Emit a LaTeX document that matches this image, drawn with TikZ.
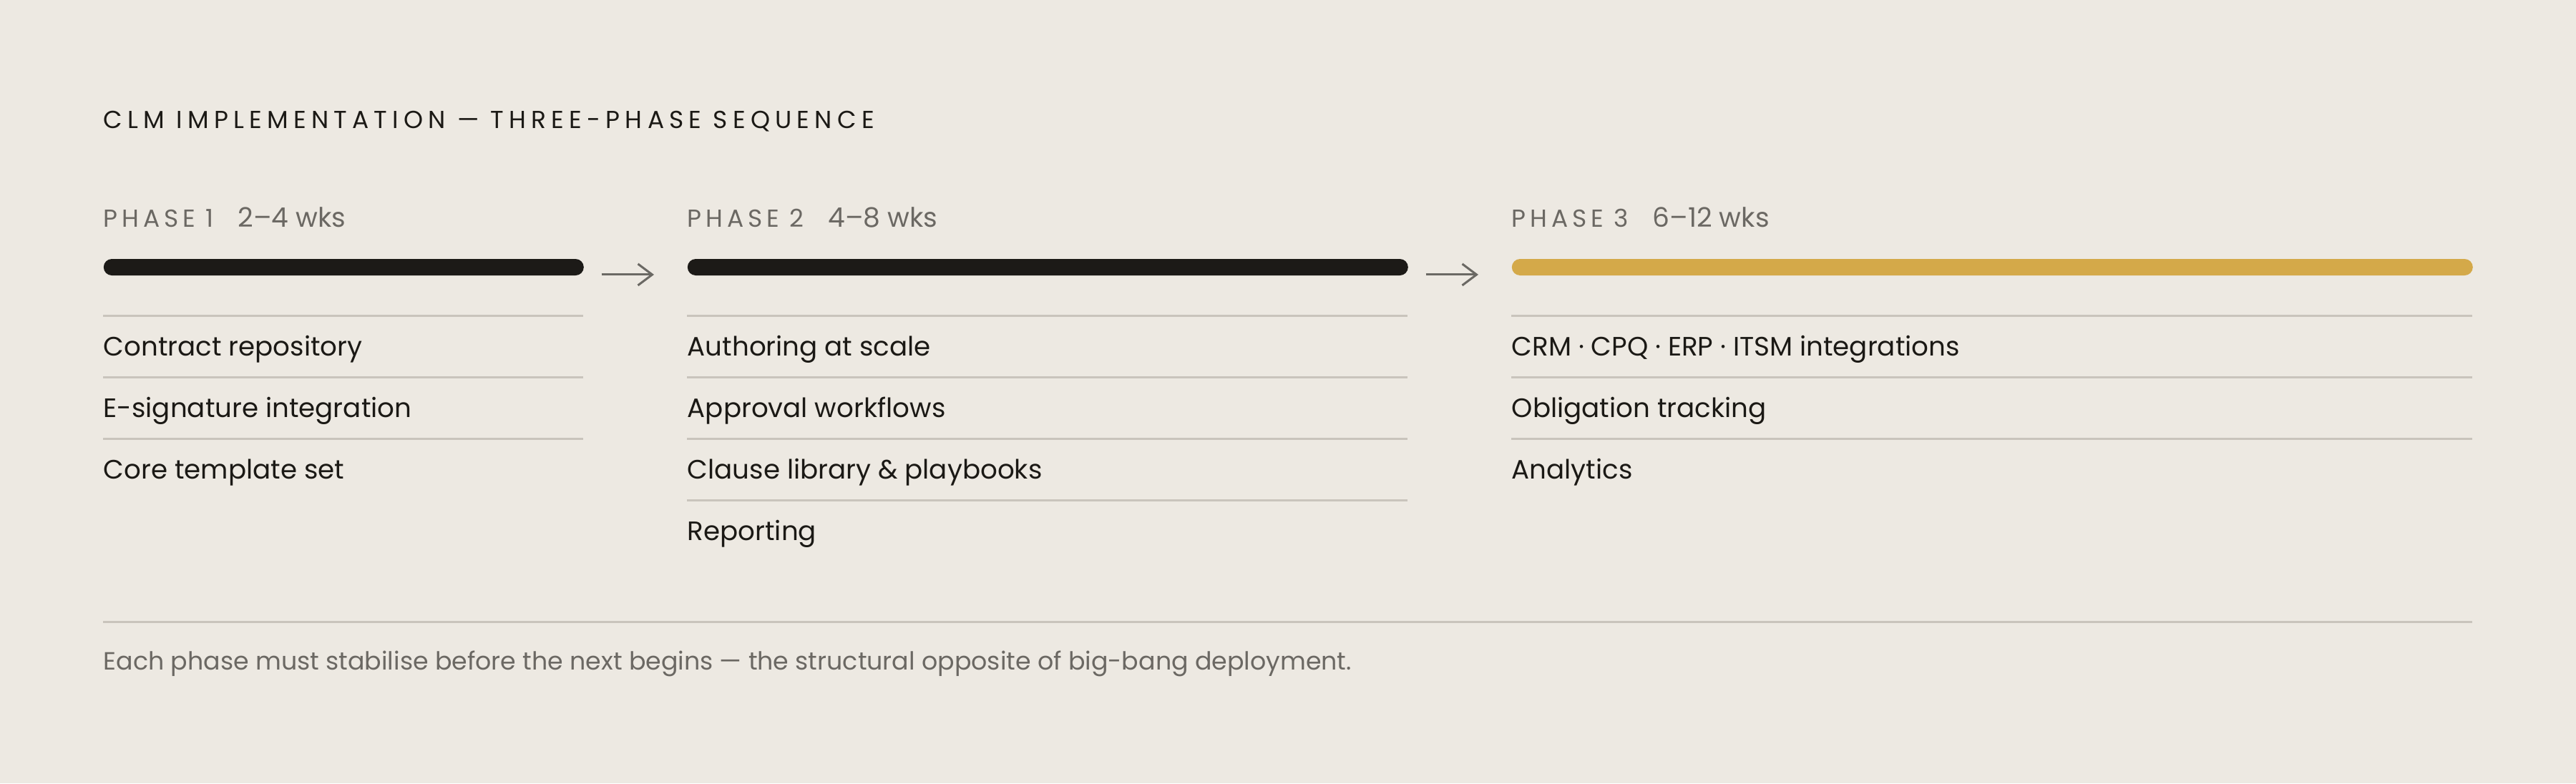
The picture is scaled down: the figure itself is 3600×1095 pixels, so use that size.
\documentclass[tikz,border=0pt]{standalone}
\usepackage{fontspec}
\setmainfont{Poppins}
\newfontfamily\trackfont[LetterSpace=21]{Poppins}
\newfontfamily\phasefont[LetterSpace=17]{Poppins}
\usetikzlibrary{positioning,arrows.meta}
\definecolor{paper}{HTML}{EDE9E2}
\definecolor{ink}{HTML}{1B1915}
\definecolor{muted}{HTML}{6B6863}
\definecolor{barblack}{HTML}{1C1A17}
\definecolor{bargold}{HTML}{D4A949}
\definecolor{rulegray}{HTML}{C9C4BC}
\definecolor{arrowgray}{HTML}{6B6964}
\begin{document}
\begin{tikzpicture}[x=0.25pt, y=-0.25pt,
  heading/.style = {anchor=base west, inner sep=0, text=ink, font=\trackfont\fontsize{8.6}{10}\selectfont},
  phase/.style = {anchor=base west, inner sep=0, text=muted, font=\phasefont\fontsize{8.6}{10}\selectfont},
  wks/.style = {inner sep=0, text=muted, font=\fontsize{9.4}{11}\selectfont},
  item/.style = {anchor=base west, inner sep=0, text=ink, font=\fontsize{9.3}{11}\selectfont},
  note/.style = {anchor=base west, inner sep=0, text=muted, font=\fontsize{8.7}{10}\selectfont},
  bar/.style = {anchor=west, inner sep=0, minimum height=5.75pt, rounded corners=2.875pt},
  rule/.style = {draw=rulegray, line width=0.75pt},
  flow/.style = {draw=arrowgray, line width=0.75pt, -{Straight Barb[length=5pt,width=7.5pt]}}]
\fill[paper] (0,0) rectangle (3600,1095);
\useasboundingbox (0,0) rectangle (3600,1095);

\node[heading] (title) at (144,179) {CLM IMPLEMENTATION — THREE-PHASE SEQUENCE};

% phase headers
\node[phase] (ph1) at (144,317) {PHASE 1};
\node[wks] (wk1) [base right=8pt of ph1] {2–4 wks};
\node[phase] (ph2) at (960,317) {PHASE 2};
\node[wks] (wk2) [base right=8pt of ph2] {4–8 wks};
\node[phase] (ph3) at (2112,317) {PHASE 3};
\node[wks] (wk3) [base right=8pt of ph3] {6–12 wks};

% bars
\node[bar, fill=barblack, minimum width=167.75pt] (bar1) at (144,373.5) {};
\node[bar, fill=barblack, minimum width=251.75pt] (bar2) at (960,373.5) {};
\node[bar, fill=bargold, minimum width=335.75pt] (bar3) at (2112,373.5) {};
\draw[flow] ([xshift=6pt,yshift=-2.6pt]bar1.east) -- ([xshift=-11.5pt,yshift=-2.6pt]bar2.west);
\draw[flow] ([xshift=6pt,yshift=-2.6pt]bar2.east) -- ([xshift=-11.5pt,yshift=-2.6pt]bar3.west);

% phase 1
\draw[rule] (144,441) -- (815,441);
\draw[rule] (144,527) -- (815,527);
\draw[rule] (144,613) -- (815,613);
\node[item] (a1) at (144,497) {Contract repository};
\node[item] (a2) at (144,583) {E-signature integration};
\node[item] (a3) at (144,669) {Core template set};

% phase 2
\draw[rule] (960,441) -- (1967,441);
\draw[rule] (960,527) -- (1967,527);
\draw[rule] (960,613) -- (1967,613);
\draw[rule] (960,699) -- (1967,699);
\node[item] (b1) at (960,497) {Authoring at scale};
\node[item] (b2) at (960,583) {Approval workflows};
\node[item] (b3) at (960,669) {Clause library \& playbooks};
\node[item] (b4) at (960,755) {Reporting};

% phase 3
\draw[rule] (2112,441) -- (3455,441);
\draw[rule] (2112,527) -- (3455,527);
\draw[rule] (2112,613) -- (3455,613);
\node[item] (c1) at (2112,497) {CRM · CPQ · ERP · ITSM integrations};
\node[item] (c2) at (2112,583) {Obligation tracking};
\node[item] (c3) at (2112,669) {Analytics};

% footer
\draw[rule] (144,869) -- (3455,869);
\node[note] (foot) at (144,936) {Each phase must stabilise before the next begins — the structural opposite of big-bang deployment.};
\end{tikzpicture}
\end{document}
